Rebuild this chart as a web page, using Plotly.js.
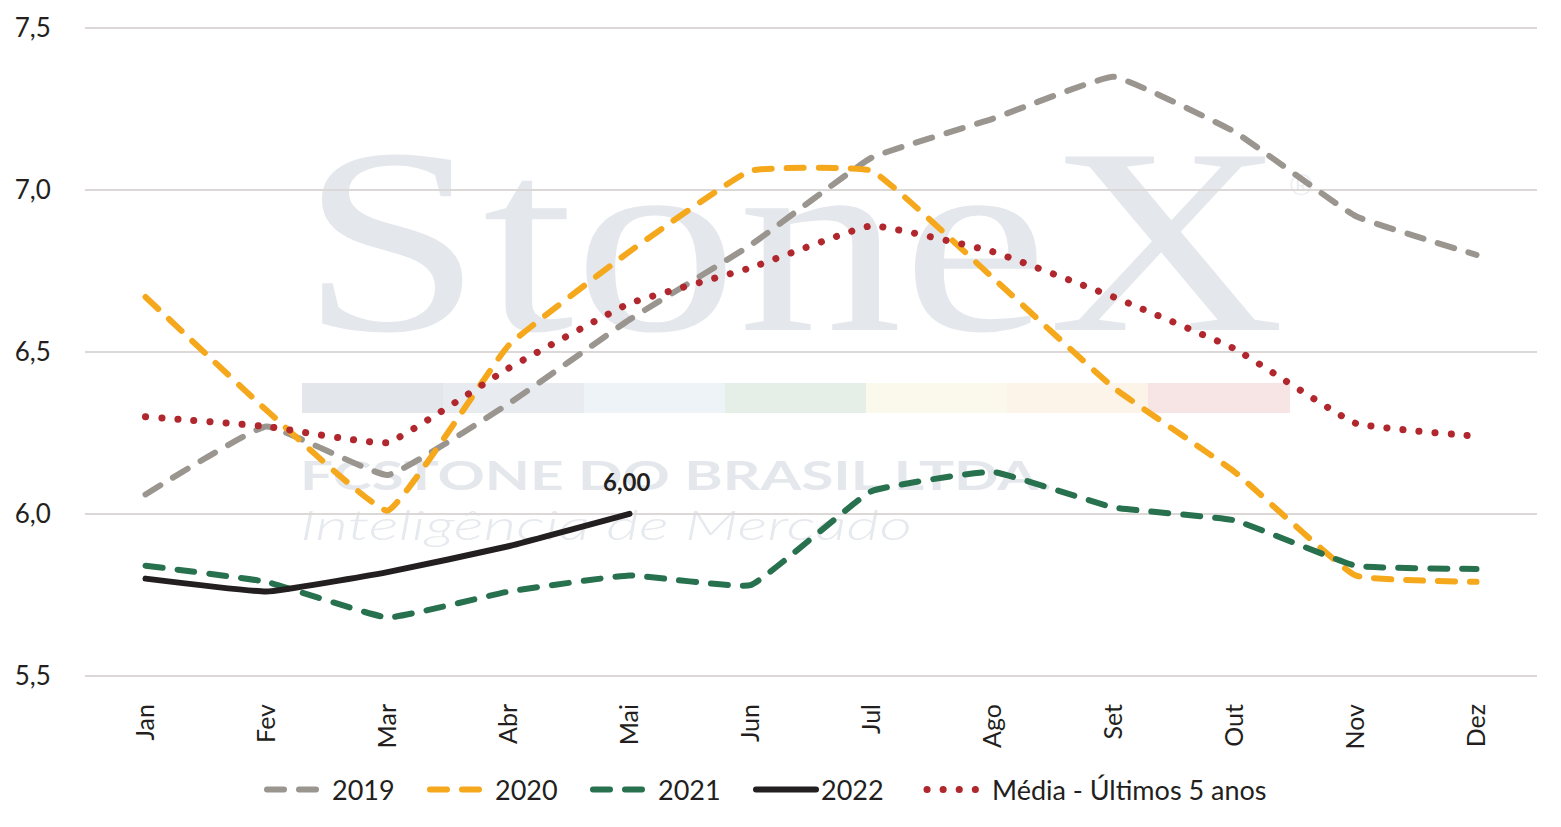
<!DOCTYPE html>
<html>
<head>
<meta charset="utf-8">
<script src="https://cdn.plot.ly/plotly-3.0.1.min.js"></script>
<style>
  body { margin: 0; background: #fff; }
  #chart { width: 1561px; height: 827px; }
  .js-line { stroke-linecap: round; }
</style>
</head>
<body>
<div id="chart"></div>
<script>
// Month labels
var months = ["Jan", "Fev", "Mar", "Abr", "Mai", "Jun", "Jul", "Ago", "Set", "Out", "Nov", "Dez"];

// Series values
var y2019 = [6.06, 6.27, 6.12, 6.34, 6.60, 6.83, 7.10, 7.22, 7.35, 7.18, 6.92, 6.80];
var y2020 = [6.67, 6.32, 6.01, 6.52, 6.81, 7.06, 7.06, 6.73, 6.39, 6.13, 5.81, 5.79];
var y2021 = [5.84, 5.79, 5.68, 5.76, 5.81, 5.78, 6.07, 6.13, 6.02, 5.98, 5.84, 5.83];
var y2022 = [5.80, 5.76, 5.82, 5.90, 6.00];
var yMedia = [6.30, 6.27, 6.22, 6.45, 6.65, 6.76, 6.89, 6.81, 6.67, 6.51, 6.28, 6.24];

var font = "Lato, 'Open Sans', sans-serif";

// watermark drawn as svg image under the plot
var wm = '<svg xmlns="http://www.w3.org/2000/svg" width="1561" height="827" viewBox="0 0 1561 827">' +
  '<text x="300" y="330" font-family="Liberation Serif, serif" font-size="265" fill="#e4e7ec" textLength="985" lengthAdjust="spacingAndGlyphs">StoneX</text>' +
  '<text x="1290" y="195" font-family="Liberation Sans, sans-serif" font-size="30" fill="#eceef2">®</text>' +
  '<rect x="302" y="383" width="141" height="30" fill="#e3e7ec"/>' +
  '<rect x="443" y="383" width="141" height="30" fill="#e8ecf0"/>' +
  '<rect x="584" y="383" width="141" height="30" fill="#eef3f7"/>' +
  '<rect x="725" y="383" width="141" height="30" fill="#e6eee8"/>' +
  '<rect x="866" y="383" width="141" height="30" fill="#fbf8ec"/>' +
  '<rect x="1007" y="383" width="141" height="30" fill="#fcf4e9"/>' +
  '<rect x="1148" y="383" width="142" height="30" fill="#f7e5e5"/>' +
  '<text x="300" y="490" font-family="Lato, sans-serif" font-weight="bold" font-size="40" fill="#e4e7ec" textLength="752" lengthAdjust="spacingAndGlyphs">FCSTONE DO BRASIL LTDA.</text>' +
  '<text x="300" y="540" font-family="Lato, sans-serif" font-style="italic" font-weight="300" font-size="42" fill="#e6e9ee" textLength="612" lengthAdjust="spacingAndGlyphs">Inteligência de Mercado</text>' +
  '</svg>';

var lineW = 6;
var dash = "17px,15px";

var data = [
  {
    x: months, y: y2019, name: "2019", type: "scatter", mode: "lines",
    line: { color: "#9a958f", width: lineW, dash: dash, shape: "spline", smoothing: 0.3 }
  },
  {
    x: months, y: y2020, name: "2020", type: "scatter", mode: "lines",
    line: { color: "#f5a81c", width: lineW, dash: dash, shape: "spline", smoothing: 0.3 }
  },
  {
    x: months, y: y2021, name: "2021", type: "scatter", mode: "lines",
    line: { color: "#28714f", width: lineW, dash: dash, shape: "spline", smoothing: 0.3 }
  },
  {
    x: months.slice(0, y2022.length), y: y2022, name: "2022", type: "scatter", mode: "lines",
    line: { color: "#231f20", width: lineW, shape: "spline", smoothing: 0.3 }
  },
  {
    x: months, y: yMedia, name: "Média - Últimos 5 anos", type: "scatter", mode: "lines",
    legend: "legend2",
    line: { color: "#b0272d", width: 7, dash: "0.1px,16px", shape: "spline", smoothing: 0.3 }
  }
];

var last = y2022.length - 1;
var legY = (827 - 148 - 790) / 654;

var layout = {
  width: 1561,
  height: 827,
  paper_bgcolor: "#fff",
  plot_bgcolor: "rgba(0,0,0,0)",
  font: { family: font, color: "#231f20" },
  separators: ",.",
  showlegend: true,
  margin: { l: 85, r: 24, t: 25, b: 148, pad: 0 },
  xaxis: {
    type: "category",
    range: [-0.5, 11.5],
    tickangle: -90,
    tickfont: { size: 25, color: "#231f20" },
    showgrid: false,
    showline: false,
    ticks: "outside",
    ticklen: 14,
    tickcolor: "rgba(0,0,0,0)"
  },
  yaxis: {
    range: [5.49, 7.51],
    dtick: 0.5,
    tick0: 5.5,
    tickformat: ".1f",
    tickfont: { size: 26, color: "#231f20" },
    gridcolor: "#dcd8d8",
    gridwidth: 2,
    zeroline: false,
    showline: false,
    ticks: "outside",
    ticklen: 28,
    tickcolor: "rgba(0,0,0,0)"
  },
  annotations: [{
    x: months[last], y: y2022[last], xref: "x", yref: "y",
    text: y2022[last].toFixed(2).replace(".", ","),
    showarrow: false, yshift: 32, xshift: -3,
    font: { family: font, size: 24, color: "#231f20", weight: "bold" }
  }],
  legend: {
    orientation: "h",
    x: (262 - 85) / 1452, xanchor: "left",
    y: legY, yanchor: "middle",
    font: { size: 27, color: "#231f20" },
    itemwidth: 60,
    entrywidth: 88,
    traceorder: "normal"
  },
  legend2: {
    orientation: "h",
    x: (922 - 85) / 1452, xanchor: "left",
    y: legY, yanchor: "middle",
    font: { size: 27, color: "#231f20" },
    itemwidth: 60
  },
  images: [{
    source: "data:image/svg+xml;charset=utf-8," + encodeURIComponent(wm),
    xref: "paper", yref: "paper",
    x: -85 / 1452, y: 1 + 25 / 654,
    sizex: 1561 / 1452, sizey: 827 / 654,
    xanchor: "left", yanchor: "top",
    sizing: "stretch",
    layer: "below"
  }]
};

Plotly.newPlot("chart", data, layout, { displayModeBar: false, staticPlot: true });
</script>
</body>
</html>
